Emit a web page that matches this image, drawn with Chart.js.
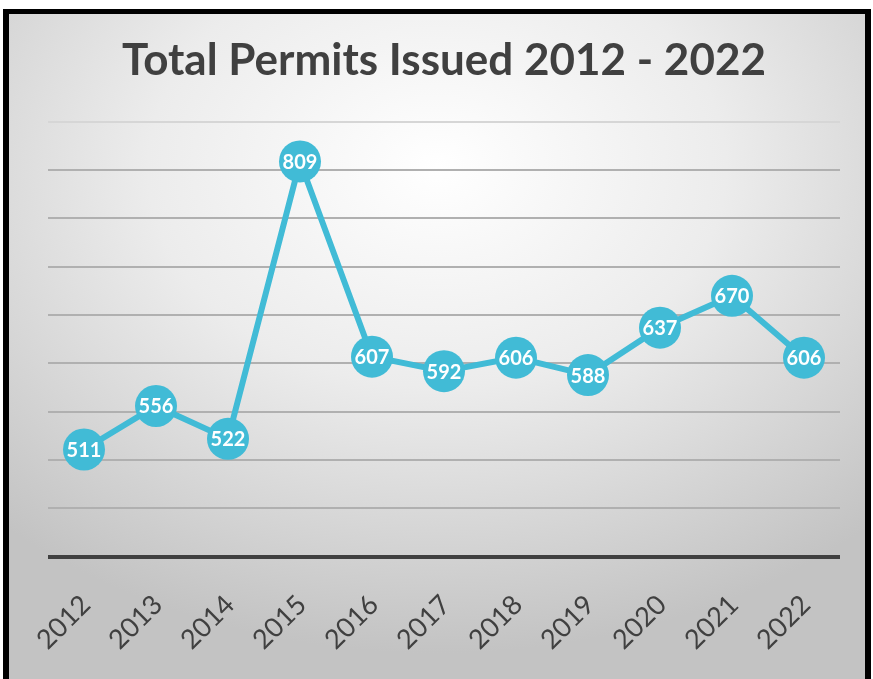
<!DOCTYPE html>
<html lang="en">
<head>
<meta charset="UTF-8">
<title>Total Permits Issued 2012 - 2022</title>
<style>
    * { margin: 0; padding: 0; box-sizing: border-box; }
    body { width: 873px; height: 679px; background: #ffffff; overflow: hidden; }
    .frame {
        position: absolute;
        left: 3px;
        top: 9px;
        width: 868px;
        height: 700px;
        border: 6px solid #000;
        border-top-width: 5px;
        border-bottom: none;
        background: radial-gradient(ellipse 75% 70% at 50% 22%, #ffffff 0%, #ececec 45%, #d2d2d2 80%, #c3c3c3 100%);
    }
    .frame canvas { display: block; }
</style>
<script src="https://cdn.jsdelivr.net/npm/chart.js"></script>
</head>
<body>
<div class="frame">
    <canvas id="permits" width="856" height="666"></canvas>
</div>
<script>
    // data
    const years = ['2012', '2013', '2014', '2015', '2016', '2017', '2018', '2019', '2020', '2021', '2022'];
    const permits = [511, 556, 522, 809, 607, 592, 606, 588, 637, 670, 606];
    const yTicks = { min: 400, max: 850, step: 50 };

    const teal = '#41bbd6';
    const darkText = '#404040';

    // numbers inside the markers
    const pointLabels = {
        id: 'pointLabels',
        afterDatasetsDraw(chart) {
            const ctx = chart.ctx;
            const meta = chart.getDatasetMeta(0);
            ctx.save();
            ctx.fillStyle = '#ffffff';
            ctx.font = 'bold 20px Lato';
            ctx.textAlign = 'center';
            ctx.textBaseline = 'middle';
            meta.data.forEach((pt, i) => {
                ctx.fillText(String(permits[i]), pt.x, pt.y + 1);
            });
            ctx.restore();
        }
    };

    new Chart(document.getElementById('permits'), {
        type: 'line',
        data: {
            labels: years,
            datasets: [{
                data: permits,
                borderColor: teal,
                borderWidth: 6,
                backgroundColor: teal,
                pointRadius: 21,
                pointHoverRadius: 21,
                pointBorderWidth: 0,
                tension: 0
            }]
        },
        options: {
            responsive: false,
            animation: false,
            layout: { padding: { left: 39, right: 25, top: 0, bottom: 0 } },
            plugins: {
                legend: { display: false },
                tooltip: { enabled: false },
                title: {
                    display: true,
                    text: 'Total Permits Issued 2012 - 2022',
                    color: darkText,
                    font: { family: 'Lato', size: 44, weight: 'bold' },
                    padding: { top: 20, bottom: 35 }
                }
            },
            scales: {
                x: {
                    offset: true,
                    grid: { display: false },
                    border: { display: false },
                    ticks: {
                        color: darkText,
                        font: { family: 'Lato', size: 27 },
                        minRotation: 45,
                        maxRotation: 45,
                        padding: 24,
                        labelOffset: 2
                    }
                },
                y: {
                    min: yTicks.min,
                    max: yTicks.max,
                    border: { display: false },
                    grid: {
                        drawTicks: false,
                        color: c => c.tick.value === yTicks.min ? '#404040' : (c.tick.value === yTicks.max ? '#d6d6d6' : '#b0b0b0'),
                        lineWidth: c => c.tick.value === yTicks.min ? 4 : 2
                    },
                    ticks: { display: false, stepSize: yTicks.step }
                }
            }
        },
        plugins: [pointLabels]
    });
</script>
</body>
</html>
